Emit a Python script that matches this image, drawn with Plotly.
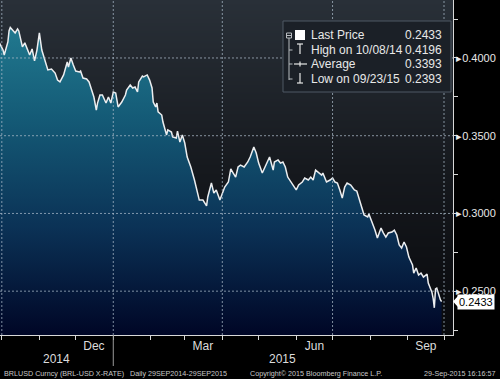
import plotly.graph_objects as go

dates = [
    "2014-09-29", "2014-10-02", "2014-10-03", "2014-10-06", "2014-10-07", "2014-10-08",
    "2014-10-12", "2014-10-14", "2014-10-15", "2014-10-18", "2014-10-20", "2014-10-22",
    "2014-10-24", "2014-10-26", "2014-10-28", "2014-10-30", "2014-11-01", "2014-11-03",
    "2014-11-05", "2014-11-08", "2014-11-11", "2014-11-14", "2014-11-16", "2014-11-18",
    "2014-11-21", "2014-11-24", "2014-11-25", "2014-11-27", "2014-11-29", "2014-12-01",
    "2014-12-04", "2014-12-05", "2014-12-07", "2014-12-10", "2014-12-12", "2014-12-14",
    "2014-12-16", "2014-12-18", "2014-12-19", "2014-12-21", "2014-12-23", "2014-12-26",
    "2014-12-28", "2014-12-30", "2015-01-01", "2015-01-03", "2015-01-05", "2015-01-08",
    "2015-01-11", "2015-01-12", "2015-01-15", "2015-01-17", "2015-01-19", "2015-01-21",
    "2015-01-22", "2015-01-25", "2015-01-26", "2015-01-29", "2015-01-31", "2015-02-02",
    "2015-02-03", "2015-02-05", "2015-02-06", "2015-02-07", "2015-02-10", "2015-02-11",
    "2015-02-14", "2015-02-15", "2015-02-18", "2015-02-19", "2015-02-22", "2015-02-23",
    "2015-02-25", "2015-02-27", "2015-03-01", "2015-03-03", "2015-03-06", "2015-03-09",
    "2015-03-11", "2015-03-13", "2015-03-16", "2015-03-19", "2015-03-20", "2015-03-23",
    "2015-03-25", "2015-03-27", "2015-03-30", "2015-04-01", "2015-04-03", "2015-04-06",
    "2015-04-08", "2015-04-10", "2015-04-12", "2015-04-14", "2015-04-16", "2015-04-19",
    "2015-04-22", "2015-04-24", "2015-04-27", "2015-04-29", "2015-05-01", "2015-05-04",
    "2015-05-06", "2015-05-08", "2015-05-10", "2015-05-13", "2015-05-14", "2015-05-17",
    "2015-05-19", "2015-05-21", "2015-05-23", "2015-05-25", "2015-05-28", "2015-05-30",
    "2015-06-01", "2015-06-03", "2015-06-06", "2015-06-08", "2015-06-11", "2015-06-13",
    "2015-06-15", "2015-06-17", "2015-06-19", "2015-06-22", "2015-06-23", "2015-06-26",
    "2015-06-29", "2015-07-01", "2015-07-03", "2015-07-05", "2015-07-07", "2015-07-09",
    "2015-07-11", "2015-07-13", "2015-07-16", "2015-07-19", "2015-07-21", "2015-07-23",
    "2015-07-25", "2015-07-27", "2015-07-30", "2015-07-31", "2015-08-03", "2015-08-05",
    "2015-08-07", "2015-08-10", "2015-08-12", "2015-08-14", "2015-08-16", "2015-08-19",
    "2015-08-21", "2015-08-23", "2015-08-25", "2015-08-27", "2015-08-29", "2015-08-31",
    "2015-09-02", "2015-09-05", "2015-09-06", "2015-09-08", "2015-09-10", "2015-09-12",
    "2015-09-14", "2015-09-17", "2015-09-18", "2015-09-21", "2015-09-22", "2015-09-23",
    "2015-09-24", "2015-09-25", "2015-09-28", "2015-09-29",
]
prices = [
    0.4097, 0.4051, 0.4019, 0.4103, 0.4175, 0.4196,
    0.4161, 0.4187, 0.4174, 0.4071, 0.4097, 0.4051,
    0.4019, 0.4058, 0.3981, 0.4051, 0.4161, 0.4051,
    0.4000, 0.3923, 0.3929, 0.3903, 0.3858, 0.3846,
    0.3891, 0.3974, 0.3942, 0.4000, 0.3955, 0.3916,
    0.3910, 0.3916, 0.3871, 0.3865, 0.3846, 0.3794,
    0.3749, 0.3665, 0.3710, 0.3762, 0.3762, 0.3710,
    0.3749, 0.3710, 0.3781, 0.3775, 0.3685, 0.3717,
    0.3762, 0.3794, 0.3826, 0.3807, 0.3813, 0.3781,
    0.3846, 0.3884, 0.3878, 0.3891, 0.3858, 0.3807,
    0.3717, 0.3685, 0.3710, 0.3653, 0.3633, 0.3588,
    0.3505, 0.3537, 0.3524, 0.3492, 0.3485, 0.3530,
    0.3459, 0.3505, 0.3453, 0.3363, 0.3299, 0.3215,
    0.3151, 0.3086, 0.3086, 0.3048, 0.3106, 0.3196,
    0.3131, 0.3151, 0.3086, 0.3131, 0.3170, 0.3202,
    0.3286, 0.3260, 0.3234, 0.3299, 0.3311, 0.3299,
    0.3331, 0.3363, 0.3427, 0.3389, 0.3324, 0.3260,
    0.3292, 0.3324, 0.3363, 0.3279, 0.3331, 0.3344,
    0.3324, 0.3331, 0.3299, 0.3234, 0.3196, 0.3170,
    0.3151, 0.3183, 0.3202, 0.3228, 0.3215, 0.3234,
    0.3215, 0.3279, 0.3266, 0.3247, 0.3260, 0.3202,
    0.3215, 0.3228, 0.3202, 0.3196, 0.3151, 0.3099,
    0.3170, 0.3196, 0.3183, 0.3151, 0.3144, 0.3086,
    0.3041, 0.2990, 0.2977, 0.2996, 0.2938, 0.2893,
    0.2842, 0.2906, 0.2874, 0.2848, 0.2874, 0.2880,
    0.2893, 0.2861, 0.2797, 0.2778, 0.2816, 0.2784,
    0.2719, 0.2668, 0.2616, 0.2649, 0.2604, 0.2616,
    0.2591, 0.2610, 0.2552, 0.2494, 0.2456, 0.2393,
    0.2515, 0.2520, 0.2445, 0.2433,
]

y_ticks = [0.25, 0.30, 0.35, 0.40]
y_tick_labels = ["▸0.2500", "▸0.3000", "▸0.3500", "▸0.4000"]
month_label_dates = ["2014-12-16", "2015-03-16", "2015-06-16", "2015-09-16"]
month_labels = ["Dec", "Mar", "Jun", "Sep"]
grid_dates = ["2014-10-01", "2015-01-01", "2015-04-01", "2015-07-01", "2015-10-01"]
year_labels = ["2014", "2015"]
year_label_dates = ["2014-11-15", "2015-05-21"]
year_break = "2015-01-01"

legend_rows = ["Last Price", "High on 10/08/14", "Average", "Low on 09/23/15"]
legend_values = ["0.2433", "0.4196", "0.3393", "0.2393"]
footer = ["BRLUSD Curncy (BRL-USD X-RATE)", "Daily 29SEP2014-29SEP2015",
          "Copyright\u00a9 2015 Bloomberg Finance L.P.", "29-Sep-2015 16:16:57"]

X_RANGE = ["2014-09-29 12:00", "2015-10-08 10:00"]
Y_RANGE = [0.2218, 0.4373]

W, H = 500, 379
ML, MR, MT, MB = 0, 47, 0, 44
PW, PH = W - ML - MR, H - MT - MB
FONT = "Liberation Sans, Arial, sans-serif"


def px(x):
    return x / PW


def py(y):
    return (PH - y) / PH


fig = go.Figure()

# background gradient of plot area
fig.add_trace(go.Heatmap(
    x=["2014-09-01", "2015-11-01"],
    y=[Y_RANGE[0], (Y_RANGE[0] + Y_RANGE[1]) / 2, Y_RANGE[1]],
    z=[[0, 0], [0.5, 0.5], [1, 1]],
    colorscale=[[0, "#08090c"], [0.5, "#16191e"], [1, "#293038"]],
    zsmooth="best", showscale=False, hoverinfo="skip",
))

fig.add_trace(go.Scatter(
    x=dates, y=prices, mode="lines",
    line=dict(color="#eceef0", width=1.5),
    fill="tozeroy",
    fillgradient=dict(
        type="vertical",
        colorscale=[[0, "#000626"], [0.35, "#0b3256"], [0.7, "#145a76"], [1, "#21798f"]],
        start=Y_RANGE[0], stop=0.42,
    ),
    showlegend=False, hoverinfo="skip",
))

shapes = []
grid_style = dict(color="rgba(170,185,200,0.75)", width=1, dash="2px,2px")
for v in y_ticks:
    shapes.append(dict(type="line", xref="paper", yref="y", x0=0, x1=1, y0=v, y1=v,
                       line=grid_style, layer="above"))
for d in grid_dates:
    shapes.append(dict(type="line", xref="x", yref="paper", x0=d, x1=d, y0=0, y1=1,
                       line=grid_style, layer="above"))
# year separator
shapes.append(dict(type="line", xref="x", yref="paper", x0=year_break, x1=year_break,
                   y0=0, y1=-31 / PH, line=dict(color="#9a9a9a", width=1), layer="above"))

# legend box
shapes.append(dict(type="rect", xref="paper", yref="paper",
                   x0=px(283), x1=px(451), y0=py(92), y1=py(21),
                   fillcolor="#1b2027", line=dict(color="#4e5964", width=1), layer="above"))
# tree lines
tree = dict(color="#b8bcc0", width=1)
shapes.append(dict(type="rect", xref="paper", yref="paper", x0=px(286.5), x1=px(291.5),
                   y0=py(38), y1=py(33), line=tree, layer="above"))
shapes.append(dict(type="line", xref="paper", yref="paper", x0=px(287), x1=px(291),
                   y0=py(35.5), y1=py(35.5), line=tree, layer="above"))
shapes.append(dict(type="line", xref="paper", yref="paper", x0=px(289), x1=px(289),
                   y0=py(38), y1=py(80), line=tree, layer="above"))
for ry in [50, 64, 79]:
    shapes.append(dict(type="line", xref="paper", yref="paper", x0=px(289), x1=px(292.5),
                       y0=py(ry), y1=py(ry), line=tree, layer="above"))
# icons
shapes.append(dict(type="rect", xref="paper", yref="paper", x0=px(295), x1=px(305),
                   y0=py(40), y1=py(30), fillcolor="white", line=dict(width=0), layer="above"))
icon = dict(color="#e8e8e8", width=1.2)
shapes.append(dict(type="line", xref="paper", yref="paper", x0=px(297), x1=px(303),
                   y0=py(44), y1=py(44), line=icon, layer="above"))
shapes.append(dict(type="line", xref="paper", yref="paper", x0=px(300), x1=px(300),
                   y0=py(44), y1=py(54), line=icon, layer="above"))
shapes.append(dict(type="line", xref="paper", yref="paper", x0=px(294), x1=px(307),
                   y0=py(64), y1=py(64), line=icon, layer="above"))
shapes.append(dict(type="line", xref="paper", yref="paper", x0=px(300), x1=px(300),
                   y0=py(61.5), y1=py(66.5), line=icon, layer="above"))
shapes.append(dict(type="line", xref="paper", yref="paper", x0=px(300), x1=px(300),
                   y0=py(73), y1=py(83), line=icon, layer="above"))
shapes.append(dict(type="line", xref="paper", yref="paper", x0=px(297), x1=px(303),
                   y0=py(83), y1=py(83), line=icon, layer="above"))

annotations = []
row_y = [35, 50, 64, 79]
for t, v, ry in zip(legend_rows, legend_values, row_y):
    annotations.append(dict(xref="paper", yref="paper", x=px(309), y=py(ry), text=t,
                            showarrow=False, xanchor="left", yanchor="middle",
                            font=dict(family=FONT, size=12, color="#e8e8e8")))
    annotations.append(dict(xref="paper", yref="paper", x=px(444), y=py(ry), text=v,
                            showarrow=False, xanchor="right", yanchor="middle",
                            font=dict(family=FONT, size=12, color="#e8e8e8")))

for t, d in zip(year_labels, year_label_dates):
    annotations.append(dict(xref="x", yref="paper", x=d, y=py(359), text=t, showarrow=False,
                            xanchor="center", yanchor="middle",
                            font=dict(family=FONT, size=12, color="#dcdcdc")))

footer_x = [2, 128, 248, 498]
footer_anchor = ["left", "left", "left", "right"]
for t, fx, a in zip(footer, footer_x, footer_anchor):
    annotations.append(dict(xref="paper", yref="paper", x=px(fx), y=py(373), text=t,
                            showarrow=False, xanchor=a, yanchor="middle",
                            font=dict(family=FONT, size=7.2, color="#c8c8c8")))

# last price tag
annotations.append(dict(xref="paper", yref="y", x=px(457), y=prices[-1],
                        text=f"{prices[-1]:.4f}", showarrow=False, xanchor="left",
                        yanchor="middle", bgcolor="white", borderpad=1,
                        font=dict(family=FONT, size=11, color="black")))
shapes.append(dict(type="path", xref="paper", yref="paper", layer="above",
                   path=f"M {px(453)} {py(301.5)} L {px(458)} {py(296)} L {px(458)} {py(307)} Z",
                   fillcolor="white", line=dict(width=0)))

fig.update_layout(
    width=W, height=H,
    margin=dict(l=ML, r=MR, t=MT, b=MB),
    paper_bgcolor="black", plot_bgcolor="#15181d",
    showlegend=False, hovermode=False,
    shapes=shapes, annotations=annotations,
    xaxis=dict(
        type="date", range=X_RANGE, showgrid=False, zeroline=False,
        tickmode="array", tickvals=month_label_dates, ticktext=month_labels,
        ticks="", ticklen=0,
        tickfont=dict(family=FONT, size=12, color="#dcdcdc"),
        showline=True, linecolor="#d8d8d8", linewidth=1,
        minor=dict(tickmode="linear", tick0="2014-10-01", dtick="M1", ticks="outside",
                   ticklen=4, tickcolor="#d8d8d8", showgrid=False),
    ),
    yaxis=dict(
        side="right", range=Y_RANGE, showgrid=False, zeroline=False,
        tickmode="array", tickvals=y_ticks, ticktext=y_tick_labels, ticks="",
        tickfont=dict(family=FONT, size=11, color="#e8e8e8"),
        showline=True, linecolor="#d8d8d8", linewidth=1,
        minor=dict(tickmode="linear", tick0=0, dtick=0.025, ticks="outside",
                   ticklen=4, tickcolor="#d8d8d8", showgrid=False),
    ),
)

fig.write_html(
    "out.html",
    config={"displayModeBar": False},
    post_script="document.body.style.margin='0';document.body.style.background='black';",
)
